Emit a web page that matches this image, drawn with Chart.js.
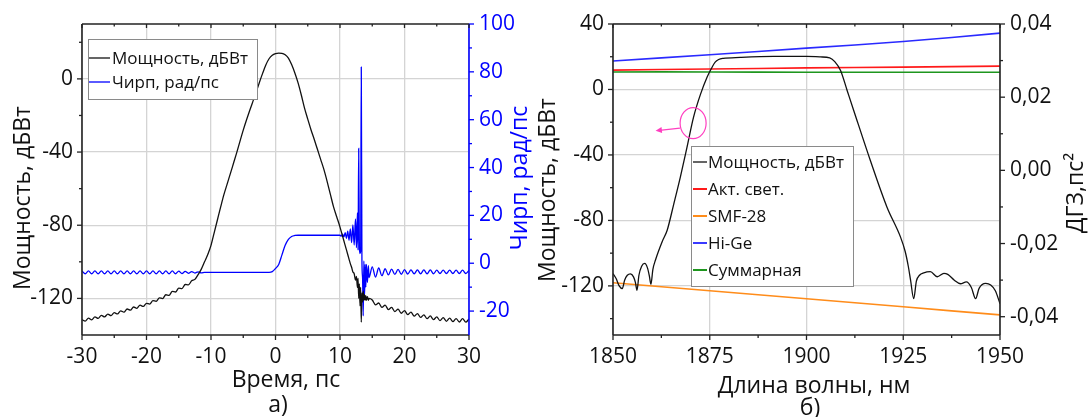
<!DOCTYPE html>
<html><head><meta charset="utf-8">
<script src="https://cdn.jsdelivr.net/npm/chart.js@4.4.0/dist/chart.umd.min.js"></script>
<style>
html,body{margin:0;padding:0;background:#fff;overflow:hidden}
#wrap{position:relative;width:1088px;height:417px;background:#fff}
#c1{position:absolute;left:0;top:0}
#c2{position:absolute;left:535px;top:0}
</style></head><body>
<div id="wrap">
<canvas id="c1" width="535" height="417"></canvas>
<canvas id="c2" width="553" height="417"></canvas>
</div>
<script>
// ---------- (a) time domain ----------
const timePs = [
-30,-29.5,-29,-28.5,-28,-27.5,-27,-26.5,-26,-25.5,
-25,-24.5,-24,-23.5,-23,-22.5,-22,-21.5,-21,-20.5,
-20,-19.5,-19,-18.5,-18,-17.5,-17,-16.5,-16,-15.5,
-15,-14.5,-14,-13.5,-13,-12.5,-12,-11.5,-11,-10.5,
-10,-9.5,-9,-8.5,-8,-7.5,-7,-6.5,-6,-5.5,
-5,-4.5,-4,-3.5,-3,-2.5,-2,-1.5,-1,-0.5,
0,0.5,1,1.5,2,2.5,3,3.5,4,4.5,
5,5.5,6,6.5,7,7.5,8,8.5,9,9.5,
10,10.2,10.4,10.6,10.8,11,11.2,11.4,11.6,11.8,
12,12.2,12.4,12.55,12.7,12.8,12.9,13,13.1,13.2,
13.3,13.4,13.5,13.6,13.7,13.8,13.9,14,14.1,14.25,
14.4,14.5,
15,15.5,16,16.5,17,17.5,18,18.5,19,19.5,
20,20.5,21,21.5,22,22.5,23,23.5,24,24.5,
25,25.5,26,26.5,27,27.5,28,28.5,29,29.5,
30];
const powerDbW = [
-131.6,-132.4,-130.8,-131.7,-130.1,-130.9,-129.3,-130.1,-128.6,-129.4,
-127.8,-128.5,-126.8,-127.5,-125.8,-126.4,-124.7,-125.4,-123.7,-124.4,
-122.7,-123.1,-121.2,-121.6,-119.7,-120.1,-118.0,-118.3,-116.2,-116.5,
-114.4,-114.6,-112.4,-112.6,-110.4,-109.6,-107,-104,-100,-96,
-91,-84,-77,-70,-63.3,-57.5,-51.8,-46,-40.2,-34,
-28,-22.5,-17.3,-12.3,-7.3,-2,3,7.6,11,12.9,
13.8,14.1,14,13.2,11.4,7.8,3.2,-2.2,-8.8,-16,
-22,-27.8,-33,-38.5,-44,-49.5,-56,-63,-70,-75.5,
-81,-83.5,-86,-88.5,-91,-93.5,-96,-98.5,-101,-103,
-105.5,-106.5,-110,-108,-114,-109,-120,-112,-124,-114,
-133,-117,-122,-116,-121,-118,-121,-118.5,-121,-119,
-121,-120,
-120.9,-123.5,-122.5,-124.9,-123.7,-126.1,-124.9,-127.2,-125.9,-128.1,
-126.7,-128.9,-127.5,-129.7,-128.3,-130.4,-129,-131.1,-129.6,-131.6,
-130.1,-132.1,-130.5,-132.5,-130.8,-132.7,-131,-132.9,-131.1,-133,
-131.2];
const chirpRadPs = [
-3.2,-4.4,-3.2,-4.4,-3.2,-4.4,-3.2,-4.4,-3.2,-4.4,
-3.2,-4.4,-3.2,-4.4,-3.2,-4.4,-3.2,-4.4,-3.2,-4.4,
-3.2,-4.4,-3.2,-4.4,-3.2,-4.4,-3.2,-4.4,-3.2,-4.4,
-3.3,-4.3,-3.4,-4.2,-3.5,-4.1,-3.6,-4.0,-3.8,-3.8,
-3.8,-3.8,-3.8,-3.8,-3.8,-3.8,-3.8,-3.8,-3.8,-3.8,
-3.8,-3.8,-3.8,-3.8,-3.8,-3.8,-3.8,-3.8,-3.8,-3.5,
-2.2,-0.5,3.5,7.5,10,11.2,11.6,11.7,11.7,11.7,
11.7,11.7,11.7,11.7,11.7,11.7,11.7,11.7,11.7,11.7,
11.7,11.3,12.2,11.0,12.8,10.4,13.4,9.6,14.4,8.6,
16,7.6,18.5,6.5,21,5.5,48,7,4,5,
82,1,-6,-22,1,-14,-0.5,-10,-0.5,-8,
-1,-6,
-1.5,-5.8,-2,-5.2,-2.3,-4.9,-2.5,-4.7,-2.6,-4.6,
-2.7,-4.5,-2.8,-4.4,-2.8,-4.4,-2.8,-4.4,-2.8,-4.4,
-2.9,-4.3,-2.9,-4.3,-2.9,-4.3,-2.9,-4.3,-2.9,-4.3,
-3.0];
const timeTicks = [-30,-20,-10,0,10,20,30];
const timeMinorTicks = [-25,-15,-5,5,15,25];
const powerTicks = [-120,-80,-40,0];
const powerMinorTicks = [-100,-60,-20,20];
const chirpTicks = [-20,0,20,40,60,80,100];
const chirpMinorTicks = [-10,10,30,50,70,90];

// ---------- (b) spectrum & dispersion ----------
const wavelengthNm = [1850,1850.8,1851.6,1852.4,1853,1853.7,1854.5,1855.3,1855.8,1856.2,
1856.7,1857.4,1858.2,1858.9,1859.4,1859.8,1860.3,1861,1862.7,1864,
1865.7,1867.4,1869.1,1870.8,1872.6,1874.3,1875.6,1876.4,1877.3,1878.5,
1882.9,1891.5,1900,1903.6,1906,1907.3,1908.8,1910.5,1912.2,1916.5,
1920.8,1924.3,1925.5,1926.3,1926.9,1927.7,1928.4,1929.2,1930.3,1932,
1933.8,1935.5,1936.5,1938.2,1939.8,1941.3,1942.6,1943.7,1944.6,1946.3,
1947.6,1948.8,1950];
const spectrumDbW = [-112.5,-115.5,-120,-121.7,-116.5,-113.5,-112.6,-114.5,-118,-122.7,
-113.5,-108,-106.3,-109,-114,-119,-110,-104,-93,-86,
-70,-53.5,-35.5,-17,-3,7.5,13.6,16.7,18.3,19,
19.6,20.2,20.2,19.9,19.3,17,11.6,-0.6,-12.8,-43.4,
-71.9,-90.2,-99,-108,-116.6,-127.8,-117,-113.5,-112,-111.3,
-114.4,-112.4,-113,-116.5,-118.7,-117.6,-121,-127.8,-121.5,-118.5,
-119.5,-123,-130.9];
const dispWavelengthNm = [1850,1875,1900,1925,1950];
const activeFiberPs2 = [0.0274,0.0277,0.0280,0.0282,0.0285];
const smf28Ps2 = [-0.0307,-0.0329,-0.0351,-0.0373,-0.0395];
const hiGePs2 = [0.0299,0.0316,0.0334,0.0352,0.0375];
const totalPs2 = [0.0269,0.0269,0.0268,0.0268,0.0268];
const wlTicks = [1850,1875,1900,1925,1950];
const wlMinorTicks = [1862.5,1887.5,1912.5,1937.5];
const specTicks = [-120,-80,-40,0,40];
const specMinorTicks = [-140,-100,-60,-20,20];
const dispTicks = [-0.04,-0.02,0,0.02,0.04];
const dispTickLabels = ['-0,04','-0,02','0,00','0,02','0,04'];
const dispMinorTicks = [-0.03,-0.01,0.01,0.03];
// pink marker (ellipse round the curve, arrow pointing to the left axis), in data units
const markerCenter = {nm:1870.7, dbw:-20.6};
const markerArrow = {fromNm:1867.3, fromDbw:-23.6, toNm:1861.0, toDbw:-25.2};

// ---------- drawing helpers ----------
const AX = '#222';
const BLUE = '#0000ff';
const GRID = '#d4d4d4';
const FONT = '"Open Sans", "DejaVu Sans", sans-serif';
const TICK_SIZE = 21, TITLE_SIZE = 23, LEGEND_SIZE = 17;

function seg(ctx,x1,y1,x2,y2){ctx.beginPath();ctx.moveTo(x1,y1);ctx.lineTo(x2,y2);ctx.stroke();}
function tickMarks(ctx, chart, id, values, side, len, color){
  const s = chart.scales[id], a = chart.chartArea;
  ctx.strokeStyle = color; ctx.lineWidth = 1.3;
  values.forEach(v => {
    const p = s.getPixelForValue(v);
    if (side==='left') seg(ctx,a.left,p,a.left-len,p);
    else if (side==='right') seg(ctx,a.right,p,a.right+len,p);
    else if (side==='bottom') seg(ctx,p,a.bottom,p,a.bottom+len);
    else seg(ctx,p,a.top,p,a.top+len);
  });
}
function frame(ctx, a, rightColor){
  ctx.lineWidth = 1.6; ctx.strokeStyle = AX;
  seg(ctx,a.left,a.top,a.right,a.top);
  seg(ctx,a.left,a.bottom,a.right,a.bottom);
  seg(ctx,a.left,a.top,a.left,a.bottom);
  ctx.strokeStyle = rightColor;
  seg(ctx,a.right,a.top,a.right,a.bottom);
}
function text(ctx, t, x, y, color, size, rot){
  ctx.save(); ctx.translate(x,y); if (rot) ctx.rotate(-Math.PI/2);
  ctx.fillStyle = color; ctx.font = size+'px '+FONT;
  ctx.textAlign='center'; ctx.textBaseline='middle'; ctx.fillText(t,0,0); ctx.restore();
}
function legend(ctx, x, y, w, h, items, rows, lineX0, lineX1, textX){
  ctx.save();
  ctx.fillStyle='#fff'; ctx.fillRect(x,y,w,h);
  ctx.strokeStyle='#8a8a8a'; ctx.lineWidth=1; ctx.strokeRect(x+0.5,y+0.5,w,h);
  ctx.font = LEGEND_SIZE+'px '+FONT; ctx.textBaseline='middle'; ctx.textAlign='left';
  items.forEach((it,i) => {
    const yy = y + rows[i];
    ctx.strokeStyle = it.color; ctx.lineWidth = it.w;
    seg(ctx, x+lineX0, yy, x+lineX1, yy);
    ctx.fillStyle = '#111'; ctx.fillText(it.label, x+textX, yy+1);
  });
  ctx.restore();
}
function axis(position, min, max, ticks, opt){
  return {
    type:'linear', position, min, max,
    afterBuildTicks: s => { s.ticks = ticks.map(v => ({value:v})); },
    afterFit: s => { if (position==='bottom') s.height = opt.size; else s.width = opt.size; },
    grid: {display: !!opt.grid, color: GRID, lineWidth: 1.3, drawTicks:false},
    border: {display:false},
    ticks: {color: opt.color || '#111', font:{family:FONT, size:TICK_SIZE}, padding: opt.padding,
      maxRotation:0, autoSkip:false,
      callback: opt.labels ? ((v,i) => opt.labels[i]) : (v => String(v))}
  };
}

// ---------- chart (a) ----------
const decorA = {
  id:'decorA',
  afterDatasetsDraw(chart){
    const ctx = chart.ctx, a = chart.chartArea;
    ctx.save();
    frame(ctx, a, BLUE);
    tickMarks(ctx, chart, 'y', powerTicks, 'left', 5, AX);
    tickMarks(ctx, chart, 'y', powerMinorTicks, 'left', 3, AX);
    tickMarks(ctx, chart, 'y2', chirpTicks, 'right', 5, BLUE);
    tickMarks(ctx, chart, 'y2', chirpMinorTicks, 'right', 3, BLUE);
    tickMarks(ctx, chart, 'x', timeTicks, 'bottom', 5, AX);
    tickMarks(ctx, chart, 'x', timeMinorTicks, 'bottom', 3, AX);
    tickMarks(ctx, chart, 'x', timeTicks, 'top', 4, AX);
    tickMarks(ctx, chart, 'x', timeMinorTicks, 'top', 2.5, AX);
    legend(ctx, a.left+6, a.top+15, 169, 60,
      [{label:'Мощность, дБВт', color:'#111', w:1.3},{label:'Чирп, рад/пс', color:BLUE, w:1.3}],
      [19,43], 1, 22, 24);
    ctx.restore();
  },
  afterDraw(chart){
    const ctx = chart.ctx;
    text(ctx, 'Мощность, дБВт', 23, 198, '#111', TITLE_SIZE, true);
    text(ctx, 'Чирп, рад/пс', 520, 178, BLUE, TITLE_SIZE, true);
    text(ctx, 'Время, пс', 286, 380, '#111', TITLE_SIZE, false);
    text(ctx, 'а)', 278, 405, '#111', TITLE_SIZE, false);
  }
};
new Chart(document.getElementById('c1'), {
  type:'line',
  data:{datasets:[
    {label:'Мощность, дБВт', data: timePs.map((t,i)=>({x:t,y:powerDbW[i]})), borderColor:'#111', borderWidth:1.3,
     pointRadius:0, cubicInterpolationMode:'monotone', yAxisID:'y', xAxisID:'x'},
    {label:'Чирп, рад/пс', data: timePs.map((t,i)=>({x:t,y:chirpRadPs[i]})), borderColor:BLUE, borderWidth:1.3,
     pointRadius:0, cubicInterpolationMode:'monotone', yAxisID:'y2', xAxisID:'x'}
  ]},
  options:{
    responsive:false, animation:false, events:[],
    layout:{padding:{top:24,left:0,right:0,bottom:0}},
    plugins:{legend:{display:false}, tooltip:{enabled:false}},
    scales:{
      x: axis('bottom', -30, 30, timeTicks, {grid:true, size:82, padding:9}),
      y: axis('left', -140, 30, powerTicks, {grid:true, size:82, padding:9}),
      y2: axis('right', -30, 100, chirpTicks, {size:66, padding:10, color:BLUE})
    }
  },
  plugins:[decorA]
});

// ---------- chart (b) ----------
const decorB = {
  id:'decorB',
  afterDatasetsDraw(chart){
    const ctx = chart.ctx, a = chart.chartArea, sx = chart.scales.x, sy = chart.scales.y;
    ctx.save();
    frame(ctx, a, AX);
    tickMarks(ctx, chart, 'y', specTicks, 'left', 5, AX);
    tickMarks(ctx, chart, 'y', specMinorTicks, 'left', 3, AX);
    tickMarks(ctx, chart, 'y2', dispTicks, 'right', 5, AX);
    tickMarks(ctx, chart, 'y2', dispMinorTicks, 'right', 3, AX);
    tickMarks(ctx, chart, 'x', wlTicks, 'bottom', 5, AX);
    tickMarks(ctx, chart, 'x', wlMinorTicks, 'bottom', 3, AX);
    tickMarks(ctx, chart, 'x', wlTicks, 'top', 4, AX);
    tickMarks(ctx, chart, 'x', wlMinorTicks, 'top', 2.5, AX);
    // pink marker
    const PINK = '#ff3fc0';
    ctx.strokeStyle = PINK; ctx.fillStyle = PINK; ctx.lineWidth = 1.2;
    ctx.beginPath();
    ctx.ellipse(sx.getPixelForValue(markerCenter.nm), sy.getPixelForValue(markerCenter.dbw), 13, 15.5, 0, 0, Math.PI*2);
    ctx.stroke();
    const x1 = sx.getPixelForValue(markerArrow.fromNm), y1 = sy.getPixelForValue(markerArrow.fromDbw);
    const x2 = sx.getPixelForValue(markerArrow.toNm), y2 = sy.getPixelForValue(markerArrow.toDbw);
    seg(ctx, x1, y1, x2+4, y2-0.3);
    const ang = Math.atan2(y2-y1, x2-x1);
    ctx.beginPath();
    ctx.moveTo(x2, y2);
    ctx.lineTo(x2 - 7*Math.cos(ang-0.45), y2 - 7*Math.sin(ang-0.45));
    ctx.lineTo(x2 - 7*Math.cos(ang+0.45), y2 - 7*Math.sin(ang+0.45));
    ctx.closePath(); ctx.fill();
    legend(ctx, a.left+78, a.top+122, 162, 140,
      [{label:'Мощность, дБВт', color:'#111', w:1.3},
       {label:'Акт. свет.', color:'#ff1a1a', w:2},
       {label:'SMF-28', color:'#ff8c1a', w:2},
       {label:'Hi-Ge', color:'#3a3aff', w:2},
       {label:'Суммарная', color:'#1e961e', w:2}],
      [16,43,70,97,124], 2, 16, 17);
    ctx.restore();
  },
  afterDraw(chart){
    const ctx = chart.ctx;
    text(ctx, 'Мощность, дБВт', 13, 190, '#111', TITLE_SIZE, true);
    text(ctx, 'ДГЗ,пс²', 541, 193, '#111', TITLE_SIZE, true);
    text(ctx, 'Длина волны, нм', 279, 386, '#111', TITLE_SIZE, false);
    text(ctx, 'б)', 275, 408, '#111', TITLE_SIZE, false);
  }
};
const dispLine = (vals, color) => ({
  data: dispWavelengthNm.map((w,i)=>({x:w,y:vals[i]})), borderColor:color, borderWidth:1.6,
  pointRadius:0, tension:0.3, yAxisID:'y2', xAxisID:'x'
});
new Chart(document.getElementById('c2'), {
  type:'line',
  data:{datasets:[
    {label:'Мощность, дБВт', data: wavelengthNm.map((w,i)=>({x:w,y:spectrumDbW[i]})), borderColor:'#111', borderWidth:1.3,
     pointRadius:0, cubicInterpolationMode:'monotone', yAxisID:'y', xAxisID:'x'},
    Object.assign({label:'Акт. свет.'}, dispLine(activeFiberPs2, '#ff1a1a')),
    Object.assign({label:'SMF-28'}, dispLine(smf28Ps2, '#ff8c1a')),
    Object.assign({label:'Hi-Ge'}, dispLine(hiGePs2, '#2a2aff')),
    Object.assign({label:'Суммарная'}, dispLine(totalPs2, '#1e961e'))
  ]},
  options:{
    responsive:false, animation:false, events:[],
    layout:{padding:{top:24,left:0,right:0,bottom:0}},
    plugins:{legend:{display:false}, tooltip:{enabled:false}},
    scales:{
      x: axis('bottom', 1850, 1950, wlTicks, {grid:true, size:82, padding:9}),
      y: axis('left', -150, 40, specTicks, {grid:true, size:78, padding:9}),
      y2: axis('right', -0.045, 0.04, dispTicks, {size:88, padding:10, labels:dispTickLabels})
    }
  },
  plugins:[decorB]
});
</script>
</body></html>
